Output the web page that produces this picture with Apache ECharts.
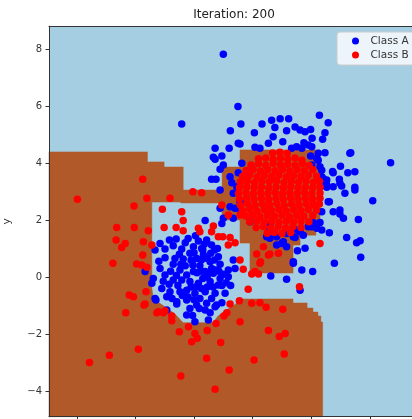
<!DOCTYPE html>
<html>
<head>
<meta charset="utf-8">
<script src="https://cdn.jsdelivr.net/npm/echarts@6/dist/echarts.min.js"></script>
<style>
  html, body { margin: 0; padding: 0; background: #fff; }
  #chart { width: 412px; height: 419px; }
</style>
</head>
<body>
<div id="chart"></div>
<script>
// axis ranges and ticks
var xRange = [-4.95, 7.7];
var yRange = [-4.9, 8.8];
var xTicks = [-4, -2, 0, 2, 4, 6];
var yTicks = [-4, -2, 0, 2, 4, 6, 8];

// decision regions for class B (brown), rest of the plane is class A (light blue)
var brownMain = [[-4.95, 4.39], [-1.59, 4.39], [-1.59, 4.04], [-1.02, 4.04], [-1.02, 3.86], [-0.37, 3.86],
    [-0.37, 2.63], [-1.44, 2.63], [-1.44, -0.39], [-1.4, -0.67], [-1.23, -0.88], [-0.93, -1.09],
    [-0.65, -1.3], [-0.37, -1.6], [0.65, -1.6], [0.82, -1.37], [1.09, -1.16], [1.33, -1.02],
    [1.5, -0.88], [1.57, -0.77], [3.38, -0.77], [3.38, -0.91], [3.86, -0.91], [3.86, -1.09],
    [4.06, -1.09], [4.06, -1.23], [4.23, -1.23], [4.23, -1.37], [4.33, -1.37], [4.33, -1.58],
    [4.39, -1.58], [4.39, -4.9], [-4.95, -4.9]];
var brownBridge = [[-0.45, 3.05], [1.0, 3.05], [1.0, 2.6], [-0.45, 2.6]];
var brownBlock = [[0.96, 3.86], [1.57, 3.86], [1.57, 4.46], [4.3, 4.46], [4.3, 1.65], [4.16, 1.65],
    [4.16, 1.47], [3.62, 1.47], [3.62, 1.12], [3.38, 1.12], [3.38, 0.14], [1.91, 0.14],
    [1.91, 1.19], [1.57, 1.19], [1.57, 2.0], [0.96, 2.0]];
var brownPolys = [brownMain, brownBridge, brownBlock];

// Class A points
var classA = [
    [1.0, 7.82], [1.5, 5.98], [-0.42, 5.37], [1.6, 5.37], [1.24, 5.13], [2.06, 5.06], [2.32, 5.37],
    [2.65, 5.5], [2.94, 5.55], [3.23, 5.55], [2.76, 5.25], [3.16, 5.13], [3.45, 5.26], [3.62, 5.16],
    [3.79, 5.1], [3.98, 5.18], [4.28, 5.68], [4.58, 5.41], [4.47, 5.06], [2.7, 4.92], [3.03, 4.75],
    [2.54, 4.69], [1.57, 4.67], [2.08, 4.55], [0.72, 4.52], [1.2, 4.52], [4.39, 4.83], [4.03, 4.87],
    [3.75, 4.71], [3.5, 4.57], [3.33, 4.52], [4.47, 4.36], [5.35, 4.36], [3.98, 4.25], [4.24, 4.1],
    [6.71, 4.01], [5.0, 3.89], [4.73, 3.7], [5.25, 3.66], [5.49, 3.69], [4.36, 3.75], [4.41, 3.46],
    [4.96, 3.43], [4.75, 3.17], [5.04, 3.19], [5.49, 3.15], [4.53, 3.15], [2.25, 4.52], [3.68, 4.52],
    [3.9, 4.63], [4.24, 4.34], [0.66, 4.2], [0.95, 4.25], [1.0, 3.93], [0.89, 3.78], [1.63, 3.99],
    [1.51, 3.66], [1.23, 3.52], [0.6, 3.43], [0.75, 3.43], [1.29, 3.31], [1.46, 3.17], [0.89, 3.05],
    [1.34, 2.94], [1.57, 2.64], [1.23, 2.47], [1.0, 2.06], [0.95, 1.88], [1.57, 2.35], [1.91, 1.94],
    [0.38, 1.98], [4.02, 3.93], [4.36, 3.52], [4.53, 3.23], [4.36, 2.29], [3.96, 1.88], [4.19, 1.71],
    [3.5, 1.65], [3.73, 1.47], [3.16, 1.53], [2.48, 1.41], [2.59, 1.65], [0.72, 4.13], [1.51, 4.69],
    [0.89, 2.41], [1.34, 2.06], [1.4, 2.41], [2.59, 1.88], [2.82, 1.41], [2.99, 1.18], [3.39, 1.41],
    [4.02, 1.76], [4.58, 2.64], [4.75, 2.29], [4.98, 2.35], [5.1, 2.06], [5.32, 4.34], [4.75, 3.66],
    [4.98, 3.29], [5.15, 2.94], [5.49, 3.05], [4.53, 3.4], [4.41, 3.23], [4.3, 3.87], [4.19, 4.16],
    [4.02, 4.57], [6.1, 2.68], [5.61, 2.02], [5.21, 1.39], [5.67, 1.27], [5.69, 0.69], [4.79, 0.48],
    [4.62, 2.64], [4.98, 2.21], [4.07, 1.91], [4.3, 1.91], [3.9, 1.76], [4.36, 1.65], [4.62, 1.55],
    [3.62, 1.59], [3.45, 1.39], [5.55, 1.2], [3.79, 1.01], [3.53, 0.92], [3.39, 0.48], [3.68, 0.25],
    [4.05, 0.19], [3.62, -0.46], [3.16, -0.08], [2.62, 0.04], [2.59, 1.36], [2.82, 1.12], [3.05, 1.24],
    [3.16, 1.06], [3.39, 0.54],
    [-0.84, 1.3], [-0.61, 1.33], [-1.16, 1.18], [-1.33, 0.95], [-0.99, 0.98], [-0.71, 1.1], [-0.42, 0.98],
    [0.15, 1.26], [0.43, 1.3], [0.6, 1.12], [0.26, 1.0], [-0.02, 1.06], [-0.14, 0.83], [0.32, 0.77],
    [0.57, 0.83], [0.83, 0.71], [-0.99, 0.68], [-0.65, 0.65], [-0.37, 0.63], [0.09, 0.65], [-0.71, 0.45],
    [-0.04, 0.42], [0.2, 0.4], [0.55, 0.54], [0.89, 0.45], [1.34, 0.6], [1.4, 0.3], [1.17, 0.25],
    [-1.16, 0.3], [-0.99, 0.07], [-0.48, 0.25], [-0.25, 0.07], [-0.02, 0.19], [0.38, 0.19], [0.66, 0.13],
    [0.89, -0.05], [-1.39, -0.05], [-0.71, -0.1], [-0.42, -0.1], [-0.14, -0.16], [0.15, -0.22],
    [0.55, -0.16], [0.83, -0.28], [1.17, 0.01], [-1.1, -0.4], [-0.82, -0.52], [-0.48, -0.52],
    [-0.25, -0.46], [0.03, -0.57], [0.38, -0.52], [0.72, -0.57], [1.06, -0.57], [-1.33, -0.75],
    [-0.93, -0.69], [-0.59, -0.87], [-0.25, -0.81], [0.09, -0.98], [0.43, -0.92], [0.77, -0.98],
    [-0.14, -1.1], [0.38, -1.16], [0.03, -1.57], [0.49, -1.51], [-0.25, -1.33], [-1.67, 0.19],
    [0.18, -1.1], [0.72, -1.04], [0.95, -0.9], [-0.59, -0.95], [-1.44, -0.22], [-1.3, -0.81],
    [-0.93, -1.16], [-0.3, 0.4], [0.45, 0.0], [0.25, -0.4], [-0.55, -0.3], [0.65, -0.35], [-0.8, 0.2],
    [0.1, 0.15], [-0.2, -0.7], [0.6, 0.3], [0.25, 0.6], [-0.5, 0.8], [0.0, -0.8], [1.0, 0.1],
    [0.7, 0.95], [-0.3, 1.2], [0.05, 1.45], [-1.2, 0.55], [-1.05, -0.15],
    [0.3, 0.95], [0.45, 0.65], [0.7, 0.6], [0.75, 0.25], [0.5, 0.15], [0.3, -0.05], [0.05, -0.35],
    [-0.1, 0.6], [-0.6, 0.05], [-0.85, -0.25], [0.95, -0.3], [0.6, -0.75], [0.2, -0.75], [-0.4, -0.65],
    [-0.1, -0.35], [0.45, -0.35], [0.85, 0.2], [1.1, -0.2], [-0.45, 0.45], [0.0, 0.85], [0.35, 1.15],
    [0.8, 1.0], [-0.2, 1.35], [0.55, -1.25], [-0.05, -1.35], [1.25, -0.3], [0.25, 0.2], [-0.75, -0.75]
];

// Class B points
var classB = [
    [-3.98, 2.73], [-1.75, 3.43], [-1.61, 2.76], [-2.05, 2.49], [-1.08, 2.38], [-0.82, 2.76],
    [-0.42, 2.29], [-0.37, 1.98], [-2.64, 1.74], [-2.04, 1.74], [-1.56, 1.62], [-1.02, 1.74],
    [-0.61, 1.74], [-2.66, 1.3], [-2.35, 1.18], [-2.47, 1.04], [-1.73, 1.24], [-1.44, 1.12],
    [-2.77, 0.48], [-1.96, 0.46], [-1.78, 0.42], [-1.75, 0.77], [-1.61, 0.34], [-0.04, 2.99],
    [0.26, 2.96], [-0.37, 1.62], [0.15, 1.71], [0.2, 1.59], [0.66, 1.79], [0.6, 1.59], [0.95, 2.53],
    [1.17, 2.18], [1.57, 2.18], [0.98, 1.41], [0.83, 1.41], [1.23, 1.39], [1.17, 1.12], [1.4, 1.2],
    [1.57, 0.6], [2.14, 0.81], [2.37, 1.06], [2.59, 0.81], [2.88, 0.83], [2.25, 0.48], [2.08, 0.19],
    [2.2, 0.11], [1.97, 0.11], [4.3, 1.18], [1.68, 0.27], [2.27, 0.54], [2.54, 0.77], [3.6, -0.34],
    [-1.64, -0.52], [-1.71, -0.98], [-1.22, -1.22], [-0.99, -1.18], [3.03, -1.13], [2.46, -1.06],
    [2.25, -0.9], [1.97, -0.92], [1.55, -0.83], [1.85, -0.43], [1.23, -0.95], [1.12, -1.25],
    [1.02, -1.37], [1.57, -1.57], [2.54, -1.88], [2.91, -2.09], [3.11, -1.98], [3.08, -2.7],
    [2.05, -2.91], [1.2, -3.26], [0.43, -2.85], [0.91, -2.3], [0.72, -3.94], [-0.45, -3.47],
    [-0.5, -1.92], [-0.08, -2.27], [0.11, -2.15], [0.03, -1.98], [0.45, -1.88], [0.75, -1.63],
    [-0.19, -1.74], [-0.76, -1.53], [-0.76, -1.37], [-1.05, -1.25], [-1.27, -1.25], [-1.67, -0.95],
    [-2.07, -0.69], [-2.21, -0.63], [-2.33, -1.25], [-1.9, -2.53], [-2.89, -2.74], [-3.57, -3.0],
    [2.68, 4.35], [2.93, 4.38], [3.18, 4.33],
    [2.2, 4.15], [2.45, 4.18], [2.7, 4.12], [2.95, 4.17], [3.2, 4.13], [3.45, 4.18], [3.68, 4.1],
    [1.95, 3.93], [2.2, 3.97], [2.45, 3.92], [2.7, 3.98], [2.95, 3.94], [3.2, 3.96], [3.45, 3.92], [3.7, 3.97], [3.93, 3.91],
    [1.78, 3.74], [2.02, 3.77], [2.27, 3.72], [2.52, 3.76], [2.77, 3.73], [3.02, 3.77], [3.27, 3.72], [3.52, 3.76], [3.77, 3.73], [4.05, 3.76],
    [1.66, 3.54], [1.9, 3.57], [2.15, 3.52], [2.4, 3.56], [2.65, 3.53], [2.9, 3.57], [3.15, 3.52], [3.4, 3.56], [3.65, 3.53], [3.9, 3.57], [4.18, 3.54],
    [1.58, 3.33], [1.82, 3.37], [2.07, 3.32], [2.32, 3.36], [2.57, 3.34], [2.82, 3.37], [3.07, 3.32], [3.32, 3.36], [3.57, 3.33], [3.82, 3.37], [4.07, 3.32], [4.28, 3.36],
    [1.55, 3.14], [1.8, 3.17], [2.05, 3.13], [2.3, 3.16], [2.55, 3.12], [2.8, 3.16], [3.05, 3.13], [3.3, 3.17], [3.55, 3.13], [3.8, 3.16], [4.05, 3.12], [4.3, 3.15],
    [1.52, 2.93], [1.77, 2.97], [2.02, 2.92], [2.27, 2.96], [2.52, 2.93], [2.77, 2.97], [3.02, 2.92], [3.27, 2.96], [3.52, 2.93], [3.77, 2.97], [4.02, 2.92], [4.3, 2.95],
    [1.55, 2.74], [1.8, 2.77], [2.05, 2.73], [2.3, 2.76], [2.55, 2.72], [2.8, 2.76], [3.05, 2.73], [3.3, 2.77], [3.55, 2.73], [3.8, 2.76], [4.05, 2.72], [4.3, 2.76],
    [1.58, 2.53], [1.83, 2.57], [2.08, 2.52], [2.33, 2.56], [2.58, 2.53], [2.83, 2.57], [3.08, 2.52], [3.33, 2.56], [3.58, 2.53], [3.83, 2.57], [4.08, 2.53], [4.28, 2.56],
    [1.65, 2.34], [1.9, 2.37], [2.15, 2.32], [2.4, 2.36], [2.65, 2.33], [2.9, 2.37], [3.15, 2.32], [3.4, 2.36], [3.65, 2.33], [3.9, 2.37], [4.18, 2.34],
    [1.76, 2.14], [2.0, 2.17], [2.25, 2.12], [2.5, 2.16], [2.75, 2.13], [3.0, 2.17], [3.25, 2.12], [3.5, 2.16], [3.75, 2.13], [4.05, 2.16],
    [1.9, 1.94], [2.15, 1.97], [2.4, 1.93], [2.65, 1.96], [2.9, 1.92], [3.15, 1.96], [3.4, 1.93], [3.65, 1.97], [3.92, 1.94],
    [2.12, 1.74], [2.37, 1.77], [2.62, 1.73], [2.87, 1.76], [3.12, 1.72], [3.37, 1.76], [3.65, 1.74],
    [2.5, 1.54], [2.75, 1.57], [3.0, 1.53], [3.3, 1.56]
];

var font = 'DejaVu Sans';
var ink = '#333333';

function minusLabel(v) {
    return String(v).replace('-', '\u2212');
}

var myChart = echarts.init(document.getElementById('chart'), null, {renderer: 'canvas'});

var option = {
    animation: false,
    textStyle: {fontFamily: font},
    grid: {
        left: 49,
        top: 26.2,
        width: 370.6,
        height: 390.5,
        containLabel: false,
        outerBoundsMode: 'none',
        show: true,
        backgroundColor: '#a6cee3',
        borderWidth: 0
    },
    graphic: [{
        type: 'text',
        x: 234,
        y: 15,
        style: {
            text: 'Iteration: 200',
            fill: '#222',
            font: '12px "DejaVu Sans"',
            textAlign: 'center',
            textVerticalAlign: 'middle'
        }
    }],
    legend: {
        orient: 'vertical',
        left: 337,
        top: 32,
        padding: [3, 10, 4, 15],
        itemGap: 2,
        itemWidth: 20,
        itemHeight: 7,
        icon: 'circle',
        backgroundColor: 'rgba(255,255,255,0.8)',
        borderColor: '#cccccc',
        borderWidth: 1,
        borderRadius: 3,
        textStyle: {fontSize: 10.5, lineHeight: 12, color: ink, fontFamily: font},
        data: ['Class A', 'Class B']
    },
    xAxis: [{
        type: 'value',
        min: xRange[0],
        max: xRange[1],
        z: 10,
        splitLine: {show: false},
        axisLine: {show: true, onZero: false, lineStyle: {color: ink, width: 1}},
        axisTick: {show: true, length: 3.5, customValues: xTicks, lineStyle: {color: ink}},
        axisLabel: {customValues: xTicks, fontSize: 10, color: ink, margin: 6, formatter: minusLabel}
    }, {
        type: 'value',
        position: 'top',
        min: xRange[0],
        max: xRange[1],
        z: 10,
        splitLine: {show: false},
        axisLine: {show: true, onZero: false, lineStyle: {color: ink, width: 1}},
        axisTick: {show: false},
        axisLabel: {show: false}
    }],
    yAxis: [{
        type: 'value',
        min: yRange[0],
        max: yRange[1],
        z: 10,
        name: 'y',
        nameLocation: 'middle',
        nameGap: 36,
        nameRotate: 90,
        nameTextStyle: {fontSize: 10.5, color: ink},
        splitLine: {show: false},
        axisLine: {show: true, onZero: false, lineStyle: {color: ink, width: 1}},
        axisTick: {show: true, length: 3.5, customValues: yTicks, lineStyle: {color: ink}},
        axisLabel: {customValues: yTicks, fontSize: 10, color: ink, margin: 7, formatter: minusLabel}
    }, {
        type: 'value',
        position: 'right',
        min: yRange[0],
        max: yRange[1],
        z: 10,
        splitLine: {show: false},
        axisLine: {show: true, onZero: false, lineStyle: {color: ink, width: 1}},
        axisTick: {show: false},
        axisLabel: {show: false}
    }],
    series: [
        {
            name: 'regions',
            type: 'custom',
            xAxisIndex: 0,
            yAxisIndex: 0,
            silent: true,
            data: brownPolys.map(function (p) { return p[0]; }),
            renderItem: function (params, api) {
                var pts = brownPolys[params.dataIndex].map(function (p) {
                    return api.coord(p);
                });
                return {
                    type: 'polygon',
                    shape: {points: pts},
                    style: {fill: '#b15928', stroke: '#b15928', lineWidth: 0.5}
                };
            },
            z: 1
        },
        {
            name: 'Class A',
            type: 'scatter',
            xAxisIndex: 0,
            yAxisIndex: 0,
            symbolSize: 7.5,
            itemStyle: {color: '#0000ff', opacity: 1},
            data: classA,
            z: 2
        },
        {
            name: 'Class B',
            type: 'scatter',
            xAxisIndex: 0,
            yAxisIndex: 0,
            symbolSize: 7.5,
            itemStyle: {color: '#ff0000', opacity: 1},
            data: classB,
            z: 3
        }
    ]
};

myChart.setOption(option);
</script>
</body>
</html>
